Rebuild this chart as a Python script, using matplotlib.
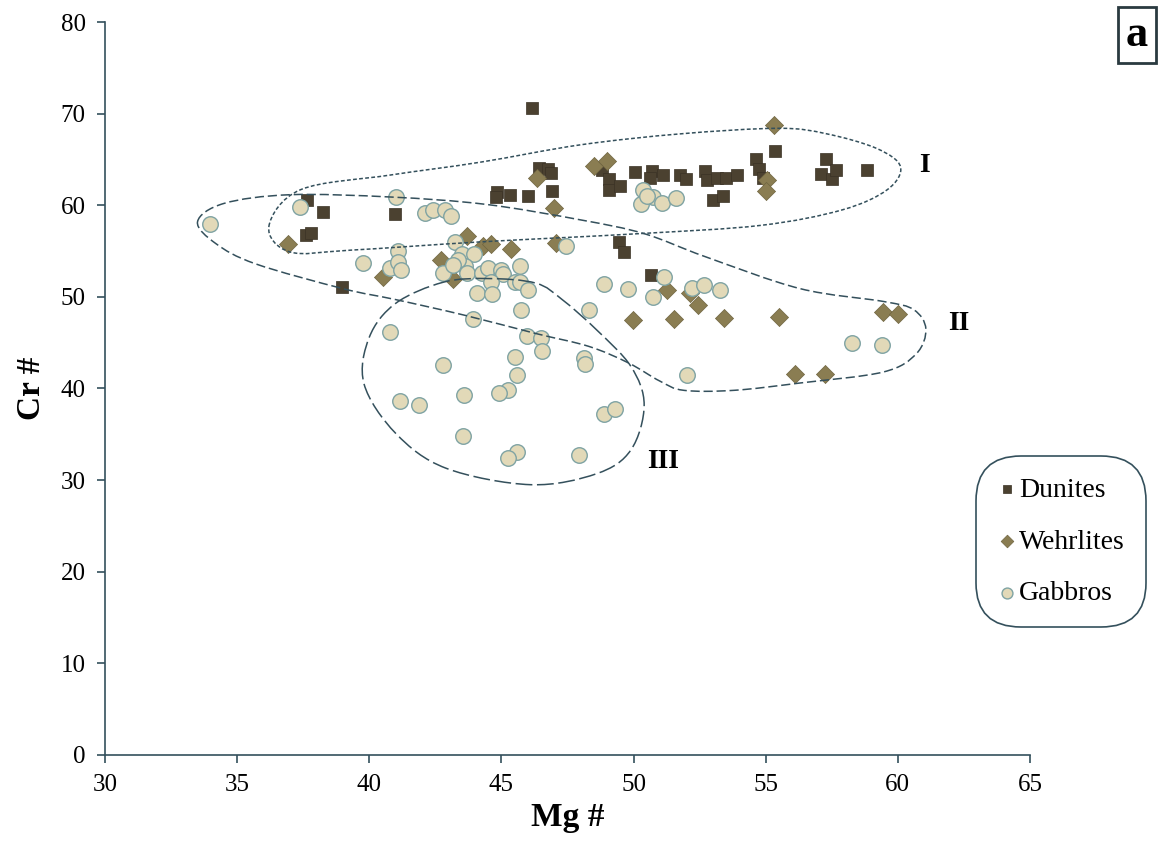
import numpy as np
import matplotlib
matplotlib.use("Agg")
import matplotlib.pyplot as plt
from matplotlib.path import Path
from matplotlib.patches import PathPatch

plt.rcParams['font.family'] = ['Liberation Serif', 'DejaVu Serif']

# ----------------------------------------
# Data
# ----------------------------------------

dunite_mg = [46.15, 55.35, 46.43, 46.77, 46.87, 44.84, 44.79, 45.32, 46.0, 46.9,
             48.79, 49.08, 49.08, 49.49, 50.05, 50.68, 50.62, 51.12, 51.75, 51.98,
             52.7, 52.77, 53.17, 53.5, 53.92, 53.01, 53.37, 54.65, 54.75, 54.9,
             57.28, 57.1, 57.49, 57.65, 58.82, 37.63, 38.26, 40.97, 37.6, 37.8,
             38.98, 49.46, 49.63, 50.64]
dunite_cr = [70.6, 65.9, 64.1, 64.0, 63.5, 61.5, 60.9, 61.1, 61.0, 61.6,
             63.8, 62.9, 61.7, 62.1, 63.6, 63.7, 63.0, 63.3, 63.3, 62.9,
             63.7, 62.8, 63.0, 63.0, 63.3, 60.6, 61.0, 65.1, 64.0, 63.0,
             65.0, 63.4, 62.9, 63.8, 63.9, 60.6, 59.3, 59.0, 56.75, 57.0,
             51.1, 56.0, 54.9, 52.4]

wehrlite_mg = [55.31, 46.33, 46.99, 48.5, 49.0, 55.06, 55.0, 36.94, 40.5, 43.68,
               42.7, 43.18, 44.3, 44.6, 45.38, 47.08, 51.27, 52.13, 52.45, 49.99,
               51.53, 53.42, 55.51, 59.45, 59.99, 56.1, 57.26]
wehrlite_cr = [68.8, 63.0, 59.75, 64.3, 64.8, 62.8, 61.6, 55.8, 52.2, 56.6,
               54.0, 52.0, 55.6, 55.8, 55.2, 55.9, 50.8, 50.4, 49.1, 47.5,
               47.55, 47.65, 47.8, 48.3, 48.1, 41.6, 41.6]

gabbro_mg = [33.97, 37.38, 41.0, 42.1, 42.4, 42.86, 43.1, 39.77, 41.07, 40.78,
             41.1, 41.19, 43.24, 43.49, 43.96, 43.62, 43.37, 42.8, 43.15, 43.68,
             44.25, 44.5, 45.0, 45.04, 44.6, 44.09, 44.64, 45.7, 45.51, 45.72,
             46.0, 45.74, 43.93, 40.78, 45.95, 46.5, 46.53, 45.51, 45.6, 42.8,
             48.13, 48.18, 45.26, 44.92, 43.58, 41.16, 41.88, 43.53, 45.6, 45.23,
             47.94, 48.88, 49.3, 48.88, 48.33, 49.8, 47.44, 50.37, 50.75, 51.06,
             50.28, 51.6, 50.5, 51.15, 52.2, 52.66, 53.27, 50.72, 58.25, 59.41,
             52.03]
gabbro_cr = [57.95, 59.85, 60.9, 59.1, 59.5, 59.5, 58.8, 53.75, 55.0, 53.2,
             53.8, 52.9, 56.0, 54.7, 54.7, 53.4, 54.0, 52.6, 53.5, 52.6,
             52.6, 53.2, 52.9, 52.5, 51.65, 50.45, 50.3, 53.4, 51.65, 51.65,
             50.8, 48.6, 47.6, 46.2, 45.77, 45.47, 44.1, 43.4, 41.5, 42.6,
             43.3, 42.7, 39.8, 39.5, 39.3, 38.65, 38.2, 34.8, 33.1, 32.4,
             32.7, 37.2, 37.8, 51.4, 48.6, 50.9, 55.5, 61.7, 60.9, 60.2,
             60.1, 60.75, 61.0, 52.2, 51.0, 51.3, 50.75, 50.0, 45.0, 44.75,
             41.5]

# outline vertices of the three field groups (Mg#, Cr#)
field_I = [(36.2, 57.7), (37.4, 61.7), (40.8, 63.3), (44.2, 64.7), (48.0, 66.6),
           (51.8, 67.8), (55.5, 68.4), (57.3, 67.8), (59.2, 66.2), (60.1, 64.2),
           (59.6, 61.7), (57.9, 59.5), (54.8, 57.8), (50.2, 56.9), (44.2, 56.0),
           (39.3, 55.1), (37.0, 54.9)]
field_II = [(33.5, 58.2), (34.5, 60.2), (37.0, 61.15), (40.8, 60.9), (44.4, 60.1),
            (48.0, 58.4), (50.4, 56.9), (52.7, 54.4), (56.3, 50.9), (59.45, 49.5),
            (60.6, 48.6), (61.06, 46.5), (60.7, 43.8), (59.45, 41.8), (56.3, 40.6),
            (53.8, 39.8), (51.9, 39.8), (51.0, 40.8), (49.8, 42.8), (48.3, 44.6),
            (46.3, 46.0), (43.6, 48.0), (41.0, 49.7), (39.0, 50.9), (35.7, 53.6),
            (34.2, 55.8)]
field_III = [(40.0, 45.6), (41.0, 49.3), (42.8, 51.6), (44.5, 52.0), (46.3, 51.5),
             (47.3, 49.7), (48.6, 46.4), (49.9, 42.4), (50.4, 38.2), (49.9, 33.3),
             (48.6, 30.7), (46.1, 29.5), (42.9, 31.3), (41.0, 35.1), (39.8, 40.5)]

# ----------------------------------------
# Helpers
# ----------------------------------------

def closed_smooth_path(pts):
    # Catmull-Rom control points turned into cubic Bezier segments
    pts = np.array(pts, dtype=float)
    n = len(pts)
    verts = [pts[0]]
    codes = [Path.MOVETO]
    for i in range(n):
        p0, p1, p2, p3 = pts[i - 1], pts[i], pts[(i + 1) % n], pts[(i + 2) % n]
        verts += [p1 + (p2 - p0) / 6.0, p2 - (p3 - p1) / 6.0, p2]
        codes += [Path.CURVE4] * 3
    return Path(verts, codes)

line_col = '#34505c'

# ----------------------------------------
# Figure
# ----------------------------------------

fig = plt.figure(figsize=(11.62, 8.5), dpi=100)
ax = fig.add_axes([0.0904, 0.1118, 0.796, 0.8623])

ax.scatter(dunite_mg, dunite_cr, marker='s', s=72, color='#4b4130',
           edgecolors='#3a3225', linewidths=0.5, label='Dunites', zorder=3)
ax.scatter(wehrlite_mg, wehrlite_cr, marker='D', s=85, color='#8a7d52',
           edgecolors='#6f6440', linewidths=0.5, label='Wehrlites', zorder=4)
ax.scatter(gabbro_mg, gabbro_cr, marker='o', s=125, color='#e2d9b8',
           edgecolors='#7fa3a3', linewidths=1.0, label='Gabbros', zorder=5)

styles = [(field_I, (0, (2.5, 1.5))), (field_II, (0, (6, 2.5))), (field_III, (0, (11, 3)))]
for pts, ls in styles:
    ax.add_patch(PathPatch(closed_smooth_path(pts), facecolor='none', edgecolor=line_col,
                           lw=1.1, linestyle=ls, zorder=6))

ax.text(61.0, 64.3, 'I', fontsize=20, fontweight='bold', ha='center', va='center')
ax.text(62.3, 47.1, 'II', fontsize=20, fontweight='bold', ha='center', va='center')
ax.text(51.1, 32.0, 'III', fontsize=20, fontweight='bold', ha='center', va='center')

ax.set_xlim(30, 65)
ax.set_ylim(0, 80)
ax.set_xticks(range(30, 66, 5))
ax.set_yticks(range(0, 81, 10))
ax.tick_params(direction='out', length=6, width=1.2, color=line_col, labelsize=18, pad=8)
for side in ['top', 'right']:
    ax.spines[side].set_visible(False)
for side in ['left', 'bottom']:
    ax.spines[side].set_color(line_col)
    ax.spines[side].set_linewidth(1.2)

ax.set_xlabel('Mg #', fontsize=24, fontweight='bold', labelpad=4)
ax.set_ylabel('Cr #', fontsize=24, fontweight='bold', labelpad=10)

leg = ax.legend(loc='upper left', bbox_to_anchor=(0.84, 0.463),
                bbox_transform=fig.transFigure, fontsize=20, markerscale=0.7,
                handletextpad=0.1, handlelength=0.7, labelspacing=0.95,
                borderpad=0.55, borderaxespad=0.2, fancybox=True, framealpha=1)
leg.get_frame().set_edgecolor(line_col)
leg.get_frame().set_linewidth(1.2)
leg.get_frame().set_boxstyle('round', pad=0.2, rounding_size=1.6)

fig.text(0.9785, 0.9585, 'a', fontsize=32, fontweight='bold', ha='center', va='center',
         bbox=dict(boxstyle='square', pad=0.18, fc='white', ec='#2a3a40', lw=2))

fig.savefig('out.png', dpi=100)
